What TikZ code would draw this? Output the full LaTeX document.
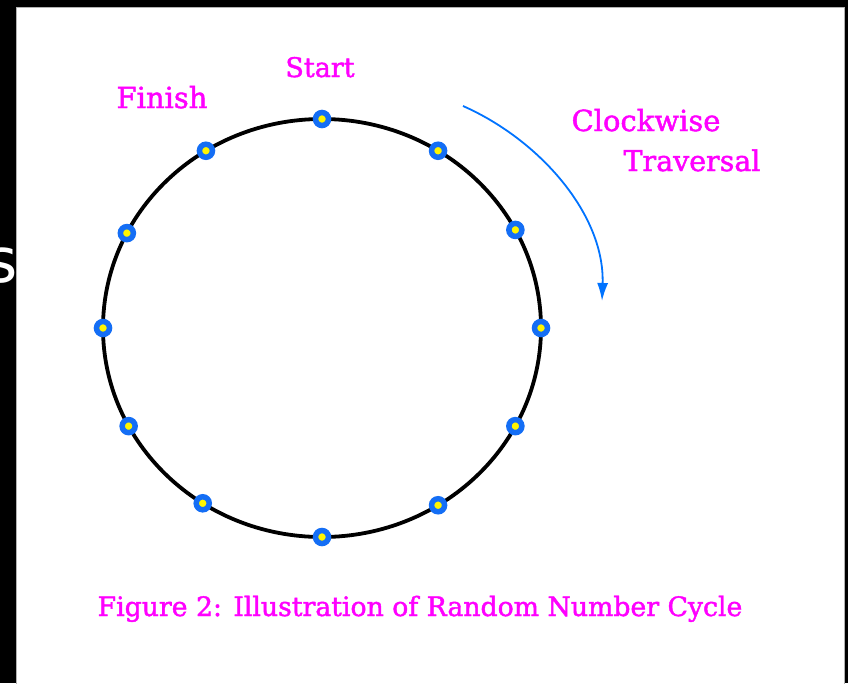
\documentclass[tikz,border=0pt]{standalone}
\usepackage{fontspec}
\setmainfont{DejaVu Serif}
\newfontfamily\lblfont[FakeBold=1.6]{DejaVu Serif}
\newfontfamily\sansfam{DejaVu Sans}
\usetikzlibrary{arrows.meta}
\definecolor{mag}{RGB}{255,0,255}
\definecolor{dotblue}{RGB}{20,110,245}
\definecolor{arrblue}{RGB}{0,115,255}
\definecolor{dotyellow}{RGB}{255,245,0}
\tikzset{
  lbl/.style={text=mag, font=\lblfont\fontsize{29}{32}\selectfont, inner sep=0pt, anchor=base},
  ringdot/.style={circle, fill=dotyellow, draw=dotblue, line width=5.5pt, minimum size=13pt, inner sep=0pt},
}
\begin{document}
\begin{tikzpicture}[x=1pt,y=-1pt]
\useasboundingbox (0,0) rectangle (848,683);
\fill[black] (0,0) rectangle (848,683);
\fill[white] (16,7) rectangle (845,690);
\draw[gray!60, line width=1pt] (16.5,690) -- (16.5,7.5) -- (844.5,7.5) -- (844.5,690);
\node[text=white, font=\sansfam\fontsize{62}{70}\selectfont, inner sep=0pt, anchor=base east] (s) at (18,282) {s};
% cycle
\draw[line width=3.8pt] (322,328) ellipse [x radius=219, y radius=209];
\foreach \a [count=\i] in {90,58,28,0,-28,-58,-90,-123,-152,180,153,122}{
  \node[ringdot] (d\i) at ({322+219*cos(\a)},{328-209*sin(\a)}) {};
}
% arrow
\coordinate (as) at (463,106);
\coordinate (ae) at (602,301);
\draw[arrblue, line width=1.8pt, -{Latex[width=11pt,length=18pt]}] (as) .. controls (540,140) and (605,215) .. (ae);
% labels
\node[lbl, font=\lblfont\fontsize{27}{30}\selectfont] (start) at (320,77) {Start};
\node[lbl] (finish) at (162,108) {Finish};
\node[lbl] (cw) at (646,131) {Clockwise};
\node[lbl, font=\lblfont\fontsize{28.5}{32}\selectfont] (tr) at (692,171) {Traversal};
\node[lbl, font=\lblfont\fontsize{26.7}{30}\selectfont] (cap) at (420,616) {Figure 2: Illustration of Random Number Cycle};
\end{tikzpicture}
\end{document}
